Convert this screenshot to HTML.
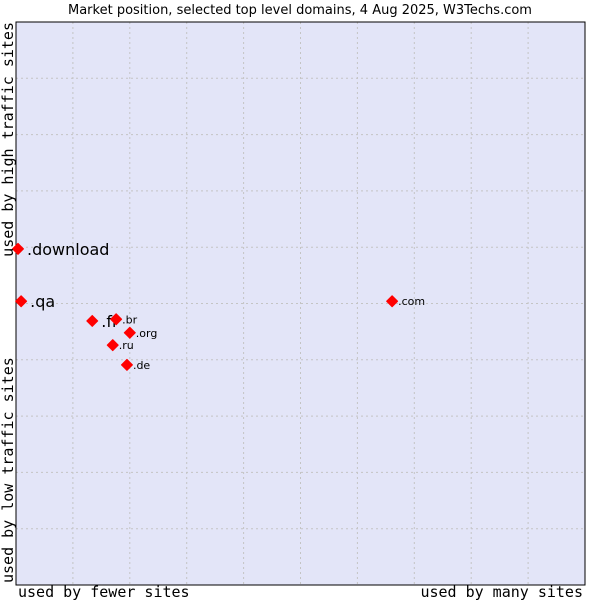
<!DOCTYPE html>
<html><head><meta charset="utf-8"><style>
html,body{margin:0;padding:0;background:#fff;}
svg{display:block;}
</style></head><body>
<svg id="chart" width="600" height="600" xmlns="http://www.w3.org/2000/svg">
<text x="300" y="14" text-anchor="middle" font-family="DejaVu Sans, sans-serif" font-size="13" fill="#000">Market position, selected top level domains, 4 Aug 2025, W3Techs.com</text>
<rect x="16" y="22" width="569" height="563" fill="#e3e5f8"/>
<g id="grid"></g>
<rect x="16" y="22" width="569" height="563" fill="none" stroke="#000" stroke-width="1"/>
<g id="points"></g>
<text x="18" y="597" font-family="DejaVu Sans Mono, monospace" font-size="15">used by fewer sites</text>
<text x="583" y="597" text-anchor="end" font-family="DejaVu Sans Mono, monospace" font-size="15">used by many sites</text>
<text transform="translate(13,22) rotate(-90)" text-anchor="end" font-family="DejaVu Sans Mono, monospace" font-size="15">used by high traffic sites</text>
<text transform="translate(13,583) rotate(-90)" text-anchor="start" font-family="DejaVu Sans Mono, monospace" font-size="15">used by low traffic sites</text>
</svg>
<script>
const labels = [".download", ".qa", ".fr", ".br", ".org", ".ru", ".de", ".com"];
const xValues = [0.35, 0.9, 13.4, 17.6, 20.0, 17.0, 19.5, 66.1];
const yValues = [59.7, 50.4, 46.9, 47.2, 44.8, 42.6, 39.1, 50.4];
const bigLabel = [true, true, true, false, false, false, false, false];
const gridTicks = [10, 20, 30, 40, 50, 60, 70, 80, 90];

const NS = "http://www.w3.org/2000/svg";
const X0 = 16, X1 = 585, Y0 = 22, Y1 = 585;
function xs(v){ return X0 + v / 100 * (X1 - X0); }
function ys(v){ return Y1 - v / 100 * (Y1 - Y0); }

const grid = document.getElementById("grid");
gridTicks.forEach(t => {
  const v = document.createElementNS(NS, "line");
  v.setAttribute("x1", xs(t)); v.setAttribute("x2", xs(t));
  v.setAttribute("y1", Y0); v.setAttribute("y2", Y1);
  v.setAttribute("stroke", "#c4c4c4"); v.setAttribute("stroke-dasharray", "2,3");
  
  
  grid.appendChild(v);
  const h = document.createElementNS(NS, "line");
  h.setAttribute("x1", X0); h.setAttribute("x2", X1);
  h.setAttribute("y1", ys(t)); h.setAttribute("y2", ys(t));
  h.setAttribute("stroke", "#c4c4c4"); h.setAttribute("stroke-dasharray", "2,3");
  
  
  grid.appendChild(h);
});

const pts = document.getElementById("points");
labels.forEach((lab, i) => {
  const cx = xs(xValues[i]), cy = ys(yValues[i]);
  const d = document.createElementNS(NS, "path");
  d.setAttribute("d", `M${cx-5.5},${cy} L${cx},${cy-5.5} L${cx+5.5},${cy} L${cx},${cy+5.5} Z`);
  d.setAttribute("fill", "#ff0000");
  d.setAttribute("stroke", "#ff0000");
  d.setAttribute("stroke-width", "1");
  d.setAttribute("stroke-linejoin", "round");
  
  
  pts.appendChild(d);
  const t = document.createElementNS(NS, "text");
  const big = bigLabel[i];
  t.setAttribute("x", cx + (big ? 9 : 6));
  t.setAttribute("y", cy + (big ? 6 : 4));
  t.setAttribute("font-family", "DejaVu Sans, sans-serif");
  t.setAttribute("font-size", big ? 16 : 11);
  t.textContent = lab;
  
  
  pts.appendChild(t);
});
</script>
</body></html>
